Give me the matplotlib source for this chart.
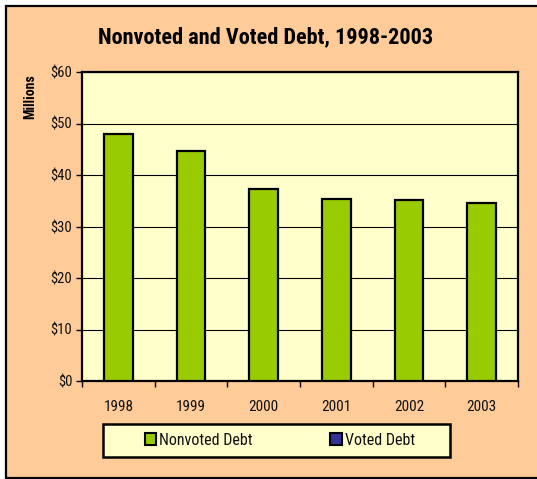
import matplotlib
matplotlib.use("Agg")
import matplotlib.pyplot as plt
from matplotlib.patches import Rectangle, Patch
import numpy as np

years = ["1998", "1999", "2000", "2001", "2002", "2003"]
nonvoted = [48.0, 44.7, 37.2, 35.3, 35.2, 34.6]
voted = [0, 0, 0, 0, 0, 0]
yticks = [0, 10, 20, 30, 40, 50, 60]
ytick_labels = ["$0", "$10", "$20", "$30", "$40", "$50", "$60"]
series_names = ["Nonvoted Debt", "Voted Debt"]

PEACH = "#FFCC99"
PLOT_BG = "#FFFFCC"
GREEN = "#99CC00"
BLUE = "#333399"
FONT = ["Roboto Condensed", "Archivo Narrow", "DejaVu Sans"]
plt.rcParams["font.family"] = FONT

W, H = 537, 479
fig = plt.figure(figsize=(W / 100, H / 100), dpi=100, facecolor="white")

# outer chart frame
frame = Rectangle((5.5 / W, 1.5 / H), 1.2, (H - 7) / H, transform=fig.transFigure,
                  facecolor=PEACH, edgecolor="black", linewidth=1.6, zorder=-5)
fig.patches.append(frame)

ax = fig.add_axes([82 / W, 1 - 381 / H, (518 - 82) / W, (381 - 72) / H])
ax.set_zorder(2)
ax.set_facecolor(PLOT_BG)

x = np.arange(len(years))
ax.bar(x, nonvoted, width=0.39, color=GREEN, edgecolor="black", linewidth=1.6, zorder=3)
ax.bar(x, voted, width=0.39, bottom=nonvoted, color=BLUE, linewidth=0, zorder=3)

ax.set_xlim(-0.5, len(years) - 0.5)
ax.set_ylim(0, 60)
ax.set_yticks(yticks)
ax.set_yticklabels(ytick_labels)
ax.yaxis.grid(True, color="black", linewidth=0.8, zorder=1)
ax.set_axisbelow(True)

ax.set_xticks(np.arange(len(years) + 1) - 0.5)
ax.set_xticklabels([])
ax.set_xticks(x, minor=True)
ax.set_xticklabels(years, minor=True)
ax.tick_params(axis="x", which="major", length=4, width=1, direction="out", color="black")
ax.tick_params(axis="x", which="minor", length=0, pad=14, labelsize=11, labelcolor="#111111")
ax.tick_params(axis="y", length=4, width=1, direction="out", pad=3, labelsize=10.5, labelcolor="#111111")

for s in ax.spines.values():
    s.set_linewidth(1.6)
    s.set_color("black")

fig.text(266 / W, 1 - 37 / H, "Nonvoted and Voted Debt, 1998-2003", ha="center", va="center",
         fontsize=16, fontweight="bold", color="black")
fig.text(30 / W, 1 - 97 / H, "Millions", ha="center", va="center", rotation=90,
         fontsize=10, fontweight="bold", color="black")

# legend box
lx0, lx1, ly0, ly1 = 102.5, 450, 424, 456.5
box = Rectangle((lx0 / W, 1 - ly1 / H), (lx1 - lx0) / W, (ly1 - ly0) / H,
                transform=fig.transFigure, facecolor=PLOT_BG, edgecolor="black",
                linewidth=1.8, zorder=2)
fig.patches.append(box)
colors = [GREEN, BLUE]
starts = [144.5, 330]
ymid = 1 - (ly0 + ly1) / 2 / H
for name, c, sx in zip(series_names, colors, starts):
    h = Patch(facecolor=c, edgecolor="black", linewidth=1.5, label=name)
    leg = fig.legend(handles=[h], loc="center left", bbox_to_anchor=(sx / W, ymid),
                     frameon=False, fontsize=11.5, handlelength=0.72, handleheight=0.72,
                     handletextpad=0.2, borderpad=0, borderaxespad=0)
    leg.set_zorder(3)
    for t in leg.get_texts():
        t.set_color("#111111")

fig.savefig("out.png", dpi=100, facecolor="white")
